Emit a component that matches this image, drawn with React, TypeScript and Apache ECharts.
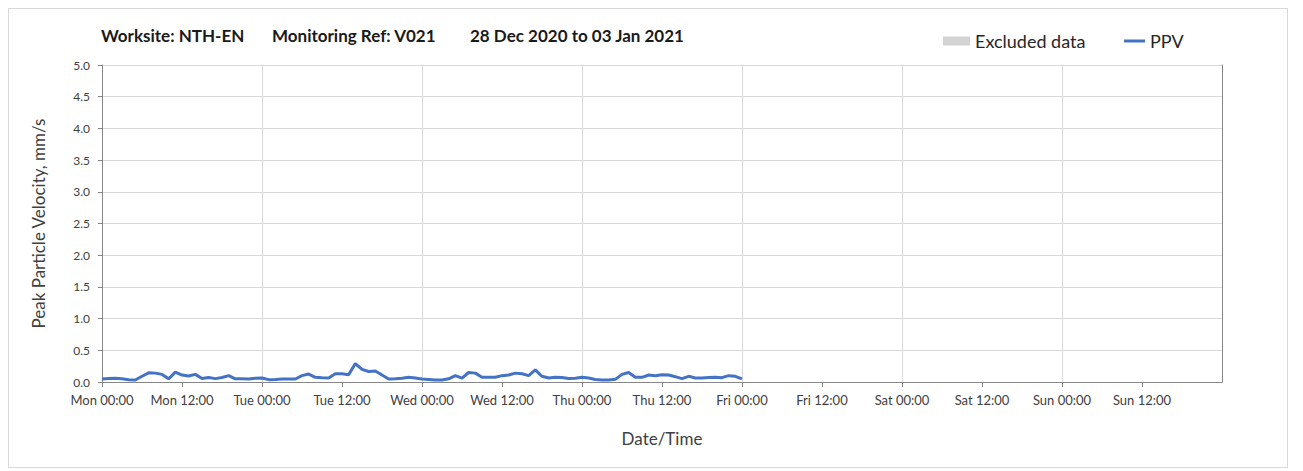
import React, { useEffect, useRef } from "react";
import * as echarts from "echarts";

const titleParts = ["Worksite: NTH-EN", "Monitoring Ref: V021", "28 Dec 2020 to 03 Jan 2021"];
const xTickLabels = [
  "Mon 00:00", "Mon 12:00", "Tue 00:00", "Tue 12:00", "Wed 00:00", "Wed 12:00",
  "Thu 00:00", "Thu 12:00", "Fri 00:00", "Fri 12:00", "Sat 00:00", "Sat 12:00",
  "Sun 00:00", "Sun 12:00",
];
const stepHours = 1;
// PPV values (mm/s), hourly from Mon 00:00 to Fri 00:00
const ppvValues = [
  0.047, 0.055, 0.058, 0.05, 0.035, 0.032, 0.09, 0.145, 0.14, 0.12, 0.05, 0.155,
  0.11, 0.095, 0.12, 0.055, 0.07, 0.053, 0.07, 0.1, 0.05, 0.053, 0.047, 0.06,
  0.063, 0.037, 0.04, 0.047, 0.047, 0.047, 0.1, 0.125, 0.074, 0.068, 0.063, 0.13,
  0.13, 0.116, 0.29, 0.2, 0.165, 0.175, 0.11, 0.047, 0.05, 0.06, 0.075, 0.063,
  0.047, 0.04, 0.032, 0.032, 0.05, 0.1, 0.06, 0.15, 0.14, 0.074, 0.074, 0.074,
  0.1, 0.11, 0.14, 0.13, 0.1, 0.19, 0.09, 0.063, 0.075, 0.07, 0.055, 0.06,
  0.074, 0.063, 0.04, 0.032, 0.032, 0.042, 0.12, 0.15, 0.074, 0.074, 0.11, 0.1,
  0.116, 0.11, 0.084, 0.053, 0.09, 0.063, 0.063, 0.07, 0.074, 0.068, 0.1, 0.09,
  0.05,
];
const excludedData: number[][] = [];

export default function App() {
  const ref = useRef<HTMLDivElement>(null);
  useEffect(() => {
    if (!ref.current) return;
    const chart = echarts.init(ref.current, undefined, { renderer: "svg" });
    const font = "Lato, 'Open Sans', sans-serif";
    const titleLefts = [92, 263, 461];
    const legendText = { fontFamily: font, fontSize: 18, color: "#262626" };
    chart.setOption({
      animation: false,
      textStyle: { fontFamily: font },
      title: titleParts.map((t, i) => ({
        text: t,
        left: titleLefts[i],
        top: 18,
        padding: 0,
        textStyle: { fontFamily: font, fontSize: 17, fontWeight: "bold", color: "#1a1a1a" },
      })),
      legend: [
        {
          left: 934,
          top: 23,
          itemWidth: 27,
          itemHeight: 9,
          itemGap: 5,
          padding: 0,
          textStyle: legendText,
          data: [{ name: "Excluded data", icon: "rect" }],
        },
        {
          left: 1115,
          top: 23,
          itemWidth: 21,
          itemHeight: 3,
          padding: 0,
          textStyle: legendText,
          data: [{ name: "PPV", icon: "rect" }],
        },
      ],
      grid: { left: 93, right: 65, top: 56, bottom: 85, containLabel: false },
      xAxis: {
        type: "value",
        min: 0,
        max: 168,
        interval: 12,
        name: "Date/Time",
        nameLocation: "middle",
        nameGap: 48,
        nameTextStyle: { fontFamily: font, fontSize: 17, color: "#404040" },
        axisLine: { show: true, lineStyle: { color: "#868686", width: 1 } },
        axisTick: { show: true, length: 5, lineStyle: { color: "#868686" } },
        axisLabel: {
          fontSize: 13,
          color: "#404040",
          margin: 11,
          showMaxLabel: false,
          formatter: (v: number) => xTickLabels[Math.round(v / 12)] ?? "",
        },
        splitLine: { show: true, lineStyle: { color: ["#d9d9d9", "rgba(0,0,0,0)"], width: 1 } },
      },
      yAxis: [
        {
          type: "value",
          min: 0,
          max: 5,
          interval: 0.5,
          name: "Peak Particle Velocity, mm/s",
          nameLocation: "middle",
          nameGap: 55,
          nameTextStyle: { fontFamily: font, fontSize: 17, color: "#404040" },
          axisLine: { show: true, lineStyle: { color: "#868686", width: 1 } },
          axisTick: { show: true, length: 4, lineStyle: { color: "#868686" } },
          axisLabel: {
            fontSize: 12,
            color: "#404040",
            margin: 12,
            formatter: (v: number) => v.toFixed(1),
          },
          splitLine: { show: true, lineStyle: { color: "#d9d9d9", width: 1 } },
        },
        {
          type: "value",
          min: 0,
          max: 5,
          interval: 0.5,
          position: "right",
          axisLine: { show: true, lineStyle: { color: "#868686", width: 1 } },
          axisTick: { show: false },
          axisLabel: { show: false },
          splitLine: { show: false },
        },
      ],
      series: [
        {
          name: "Excluded data",
          type: "bar",
          data: excludedData,
          itemStyle: { color: "#d3d3d3" },
        },
        {
          name: "PPV",
          type: "line",
          data: ppvValues.map((v, i) => [i * stepHours, v]),
          symbol: "none",
          lineStyle: { color: "#4472c4", width: 3 },
          itemStyle: { color: "#4472c4" },
        },
      ],
    });
    return () => chart.dispose();
  }, []);
  return (
    <div style={{ width: 1280, height: 460, border: "1px solid #d9d9d9", boxSizing: "border-box" }}>
      <div ref={ref} style={{ width: 1278, height: 458 }} />
    </div>
  );
}
